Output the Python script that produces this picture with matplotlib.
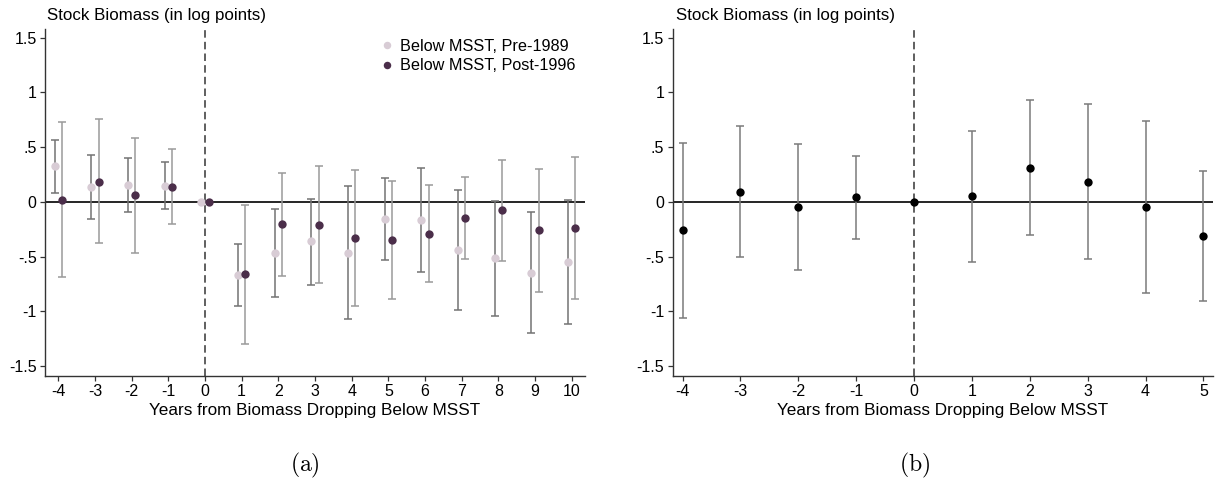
import numpy as np
import matplotlib
matplotlib.use("Agg")
import matplotlib.pyplot as plt

plt.rcParams['font.family'] = ['Liberation Sans', 'DejaVu Sans']
plt.rcParams['mathtext.fontset'] = 'cm'

# ---------------- Data: panel (a) ----------------
years_a = [-4, -3, -2, -1, 0, 1, 2, 3, 4, 5, 6, 7, 8, 9, 10]
pre_est = [0.326, 0.137, 0.152, 0.150, 0.0, -0.670, -0.466, -0.360, -0.466, -0.159, -0.164, -0.442, -0.515, -0.646, -0.545]
pre_lo = [0.082, -0.152, -0.091, -0.067, np.nan, -0.953, -0.868, -0.755, -1.069, -0.530, -0.640, -0.990, -1.038, -1.194, -1.114]
pre_hi = [0.570, 0.433, 0.402, 0.365, np.nan, -0.381, -0.064, 0.030, 0.142, 0.216, 0.307, 0.106, 0.005, -0.095, 0.021]
post_est = [0.020, 0.186, 0.061, 0.141, 0.0, -0.661, -0.201, -0.207, -0.329, -0.347, -0.290, -0.150, -0.077, -0.259, -0.238]
post_lo = [-0.685, -0.374, -0.466, -0.204, np.nan, -1.294, -0.673, -0.740, -0.947, -0.889, -0.734, -0.524, -0.536, -0.822, -0.883]
post_hi = [0.730, 0.755, 0.588, 0.484, np.nan, -0.025, 0.265, 0.325, 0.295, 0.192, 0.155, 0.231, 0.380, 0.304, 0.407]

# ---------------- Data: panel (b) ----------------
years_b = [-4, -3, -2, -1, 0, 1, 2, 3, 4, 5]
b_est = [-0.259, 0.094, -0.046, 0.043, 0.0, 0.055, 0.313, 0.185, -0.043, -0.310]
b_lo = [-1.059, -0.500, -0.621, -0.338, np.nan, -0.545, -0.304, -0.520, -0.828, -0.904]
b_hi = [0.542, 0.690, 0.530, 0.423, np.nan, 0.651, 0.932, 0.892, 0.742, 0.283]

yticks = [1.5, 1, 0.5, 0, -0.5, -1, -1.5]
ytick_labels = ['1.5', '1', '.5', '0', '-.5', '-1', '-1.5']
series_labels = ['Below MSST, Pre-1989', 'Below MSST, Post-1996']
title_text = 'Stock Biomass (in log points)'
xlabel_text = 'Years from Biomass Dropping Below MSST'

light_col = '#d8ccd5'
dark_col = '#4b2e4a'

fig = plt.figure(figsize=(12.19, 4.90), dpi=100)
axA = fig.add_axes([45/1219, 114/490, 540/1219, 347/490])
axB = fig.add_axes([672.7/1219, 114/490, 540.6/1219, 347/490])


def style(ax, xlim, xticks):
    ax.set_xlim(*xlim)
    ax.set_ylim(-1.59, 1.58)
    ax.set_yticks(yticks)
    ax.set_yticklabels(ytick_labels)
    ax.set_xticks(xticks)
    ax.set_xticklabels([str(v) for v in xticks])
    for s in ['top', 'right']:
        ax.spines[s].set_visible(False)
    for s in ['left', 'bottom']:
        ax.spines[s].set_color('#333333')
        ax.spines[s].set_linewidth(1.0)
    ax.tick_params(axis='both', direction='out', length=3.5, width=0.9,
                   color='#333333', labelsize=11.5, pad=2.5)
    ax.axhline(0, color='black', lw=1.2, zorder=1)
    ax.axvline(0, color='#444444', lw=1.2, dashes=(4.5, 2.5), zorder=1)


def errbars(ax, x, est, lo, hi, ecol, mcol, label=None):
    x = np.asarray(x, dtype=float)
    est = np.asarray(est); lo = np.asarray(lo); hi = np.asarray(hi)
    m = ~np.isnan(lo)
    yerr = np.vstack([est[m] - lo[m], hi[m] - est[m]])
    ax.errorbar(x[m], est[m], yerr=yerr, fmt='none', ecolor=ecol,
                elinewidth=1.1, capsize=2.9, capthick=1.1, zorder=2)
    ax.plot(x, est, 'o', color=mcol, ms=6.0, mec='none', zorder=3, label=label)


style(axA, (-4.36, 10.36), years_a)
xa = np.asarray(years_a, dtype=float)
errbars(axA, xa - 0.1, pre_est, pre_lo, pre_hi, '#737373', light_col, series_labels[0])
errbars(axA, xa + 0.1, post_est, post_lo, post_hi, '#9a9a9a', dark_col, series_labels[1])
axA.legend(loc='upper left', bbox_to_anchor=(0.619, 0.972), frameon=False,
           borderpad=0, borderaxespad=0, handlelength=1.0, handletextpad=0.3,
           labelspacing=0.28, fontsize=11.7, numpoints=1, markerscale=0.9)

style(axB, (-4.17, 5.17), years_b)
errbars(axB, years_b, b_est, b_lo, b_hi, '#7a7a7a', 'black')

for ax, xl in [(axA, 47/1219), (axB, 675.7/1219)]:
    fig.text(xl, 470/490, title_text, fontsize=12.2, va='baseline', ha='left')

fig.text(315/1219, 75/490, xlabel_text, fontsize=12.3, ha='center', va='baseline')
fig.text(943/1219, 75/490, xlabel_text, fontsize=12.3, ha='center', va='baseline')

fig.text(305/1219, 25/490, r'$\mathrm{(a)}$', fontsize=17, ha='center', va='center')
fig.text(915/1219, 25/490, r'$\mathrm{(b)}$', fontsize=17, ha='center', va='center')

fig.savefig('out.png', dpi=100)
